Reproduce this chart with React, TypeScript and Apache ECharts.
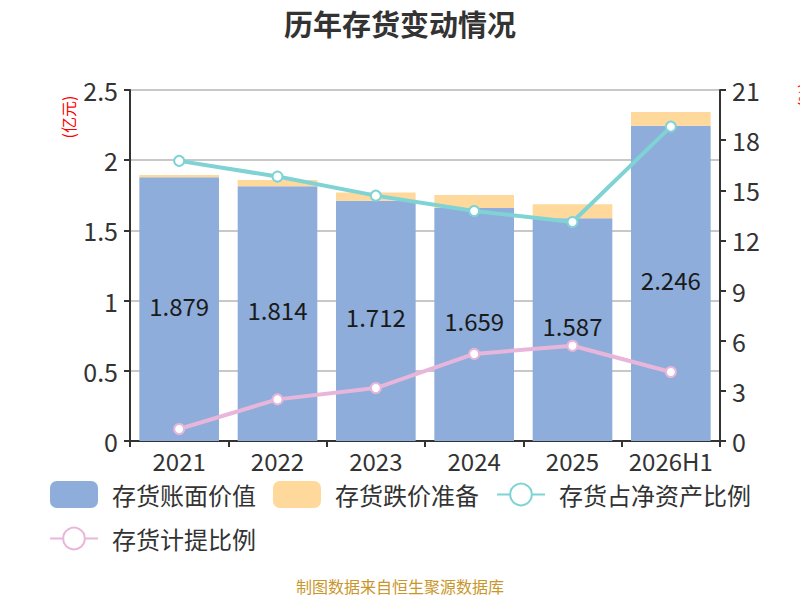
import React, { useEffect, useRef } from "react";
import * as echarts from "echarts";

const categories = ["2021", "2022", "2023", "2024", "2025", "2026H1"];
const bookValue = [1.879, 1.814, 1.712, 1.659, 1.587, 2.246];
const reserve = [0.015, 0.045, 0.058, 0.093, 0.099, 0.097];
const ratioNetAssets = [16.76, 15.82, 14.68, 13.76, 13.1, 18.81];
const ratioProvision = [0.72, 2.49, 3.17, 5.21, 5.7, 4.13];

const FONT = "'Noto Sans CJK SC', 'Noto Sans', sans-serif";

export default function App() {
  const ref = useRef<HTMLDivElement>(null);
  useEffect(() => {
    if (!ref.current) return;
    const chart = echarts.init(ref.current, undefined, { renderer: "svg" });
    chart.setOption({
      animation: false,
      backgroundColor: "#fff",
      textStyle: { fontFamily: FONT },
      title: {
        text: "历年存货变动情况",
        left: "center",
        top: 3,
        textStyle: { fontSize: 29, fontWeight: "bold", color: "#333", fontFamily: FONT },
      },
      graphic: [
        {
          type: "text",
          x: 68,
          y: 117,
          rotation: Math.PI / 2,
          style: {
            text: "(亿元)",
            fill: "#f00",
            fontSize: 16,
            fontFamily: FONT,
            align: "center",
            verticalAlign: "middle",
          },
        },
        {
          type: "text",
          x: 803,
          y: 95,
          rotation: Math.PI / 2,
          style: {
            text: "(%)",
            fill: "#f00",
            fontSize: 15,
            fontFamily: FONT,
            align: "center",
            verticalAlign: "middle",
          },
        },
        {
          type: "text",
          left: "center",
          top: 578,
          style: {
            text: "制图数据来自恒生聚源数据库",
            fill: "#C9962B",
            fontSize: 16,
            fontFamily: FONT,
          },
        },
      ],
      legend: {
        left: 44,
        right: 30,
        top: 476,
        itemWidth: 48,
        itemHeight: 27,
        itemGap: 17,
        textStyle: {
          fontSize: 24,
          lineHeight: 26,
          color: "#333",
          fontFamily: FONT,
          padding: [0, 0, 0, 9],
        },
        data: [
          { name: "存货账面价值", icon: "roundRect" },
          { name: "存货跌价准备", icon: "roundRect" },
          { name: "存货占净资产比例" },
          { name: "存货计提比例" },
        ],
      },
      grid: { left: 130, right: 80, top: 90, bottom: 159 },
      xAxis: {
        type: "category",
        data: categories,
        axisLine: { lineStyle: { color: "#333", width: 2 } },
        axisTick: { show: true, length: 6, lineStyle: { color: "#333", width: 2 } },
        axisLabel: {
          fontSize: 24,
          lineHeight: 22,
          color: "#333",
          margin: 8,
          fontFamily: FONT,
          interval: 0,
        },
      },
      yAxis: [
        {
          type: "value",
          min: 0,
          max: 2.5,
          interval: 0.5,
          axisLine: { show: true, lineStyle: { color: "#333", width: 2 } },
          axisTick: { show: true, length: 6, lineStyle: { color: "#333", width: 2 } },
          axisLabel: { fontSize: 25, color: "#333", margin: 12, fontFamily: FONT },
          splitLine: { lineStyle: { color: "#c8c8c8", width: 2 } },
        },
        {
          type: "value",
          min: 0,
          max: 21,
          interval: 3,
          axisLine: { show: true, lineStyle: { color: "#333", width: 2 } },
          axisTick: { show: true, length: 6, lineStyle: { color: "#333", width: 2 } },
          axisLabel: { fontSize: 25, color: "#333", margin: 12, fontFamily: FONT },
          splitLine: { show: false },
        },
      ],
      series: [
        {
          name: "存货账面价值",
          type: "bar",
          stack: "inv",
          data: bookValue,
          barCategoryGap: "19%",
          itemStyle: { color: "#8EADDA" },
          label: {
            show: true,
            position: "inside",
            offset: [0, -4],
            fontSize: 24,
            color: "#1a1a1a",
            fontFamily: FONT,
          },
        },
        {
          name: "存货跌价准备",
          type: "bar",
          stack: "inv",
          data: reserve,
          itemStyle: { color: "#FFD99B" },
        },
        {
          name: "存货占净资产比例",
          type: "line",
          yAxisIndex: 1,
          data: ratioNetAssets,
          symbol: "circle",
          symbolSize: 10,
          lineStyle: { color: "#7FD3D4", width: 4 },
          itemStyle: { color: "#fff", borderColor: "#7FD3D4", borderWidth: 2 },
        },
        {
          name: "存货计提比例",
          type: "line",
          yAxisIndex: 1,
          data: ratioProvision,
          symbol: "circle",
          symbolSize: 10,
          lineStyle: { color: "#E8B6DA", width: 4 },
          itemStyle: { color: "#fff", borderColor: "#E8B6DA", borderWidth: 2 },
        },
      ],
    });
    return () => chart.dispose();
  }, []);
  return (
    <div
      ref={ref}
      style={{ position: "fixed", left: 0, top: 0, width: 800, height: 600 }}
    />
  );
}
